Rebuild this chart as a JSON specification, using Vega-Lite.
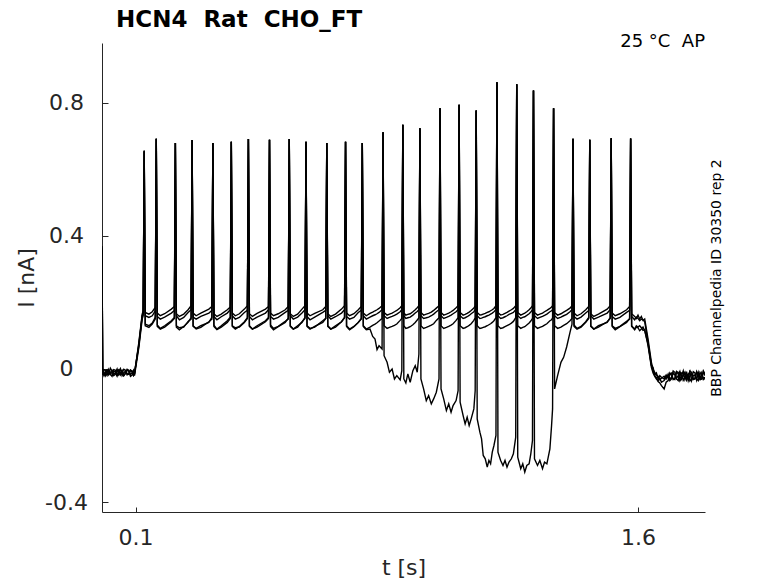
{
"$schema": "https://vega.github.io/schema/vega-lite/v6.json",
"width": 603, "height": 469,
"autosize": {"type": "none"},
"padding": {"left": 102, "top": 43, "right": 73, "bottom": 71},
"background": "white",
"config": {"view": {"stroke": null}, "font": "DejaVu Sans"},
"title": {"text": "HCN4\u00a0\u00a0Rat\u00a0\u00a0CHO_FT", "anchor": "start", "frame": "group", "dx": 14, "offset": 1, "fontSize": 23, "fontWeight": "bold", "color": "black", "font": "DejaVu Sans"},
"layer": [
{
"data": {"values": [
{"t":0.000,"a":0.37,"b":0.36,"c":0.35,"d":0.365},
{"t":0.002,"a":-0.005,"b":-0.012,"c":-0.018,"d":-0.008},
{"t":0.006,"a":-0.018,"b":-0.002,"c":-0.01,"d":-0.02},
{"t":0.010,"a":-0.012,"b":-0.004,"c":-0.02,"d":-0.01},
{"t":0.015,"a":-0.02,"b":-0.014,"c":-0.004,"d":-0.003},
{"t":0.020,"a":-0.002,"b":-0.015,"c":-0.008,"d":-0.018},
{"t":0.025,"a":-0.016,"b":0.002,"c":-0.016,"d":-0.01},
{"t":0.030,"a":-0.01,"b":-0.006,"c":-0.022,"d":-0.004},
{"t":0.035,"a":-0.002,"b":-0.02,"c":-0.006,"d":-0.016},
{"t":0.040,"a":-0.004,"b":-0.016,"c":-0.01,"d":-0.012},
{"t":0.045,"a":-0.018,"b":-0.006,"c":0.0,"d":-0.022},
{"t":0.050,"a":-0.012,"b":-0.002,"c":-0.018,"d":-0.008},
{"t":0.055,"a":-0.003,"b":-0.018,"c":-0.012,"d":0.001},
{"t":0.060,"a":-0.006,"b":-0.012,"c":-0.004,"d":-0.02},
{"t":0.065,"a":-0.02,"b":-0.001,"c":-0.02,"d":-0.012},
{"t":0.070,"a":-0.014,"b":-0.004,"c":-0.012,"d":-0.006},
{"t":0.075,"a":-0.001,"b":-0.014,"c":-0.003,"d":-0.018},
{"t":0.080,"a":-0.004,"b":-0.016,"c":-0.008,"d":-0.014},
{"t":0.085,"a":-0.016,"b":-0.003,"c":-0.022,"d":-0.004},
{"t":0.090,"a":-0.012,"b":-0.006,"c":-0.018,"d":-0.01},
{"t":0.094,"a":-0.004,"b":-0.018,"c":-0.008,"d":-0.02},
{"t":0.097,"a":-0.016,"b":-0.01,"c":-0.02,"d":-0.014},
{"t":0.110,"a":0.08,"b":0.07,"c":0.065,"d":0.075},
{"t":0.120,"a":0.165,"b":0.158,"c":0.15,"d":0.16},
{"t":0.123,"a":0.175,"b":0.17,"c":0.16,"d":0.168},
{"t":0.126,"a":0.657,"b":0.655,"c":0.652,"d":0.656},
{"t":0.129,"a":0.17,"b":0.16,"c":0.13,"d":0.135},
{"t":0.140,"a":0.165,"b":0.155,"c":0.125,"d":0.13},
{"t":0.150,"a":0.172,"b":0.16,"c":0.135,"d":0.138},
{"t":0.159,"a":0.185,"b":0.175,"c":0.15,"d":0.155},
{"t":0.162,"a":0.692,"b":0.692,"c":0.692,"d":0.692},
{"t":0.165,"a":0.168,"b":0.158,"c":0.128,"d":0.132},
{"t":0.174,"a":0.16,"b":0.15,"c":0.12,"d":0.122},
{"t":0.187,"a":0.166,"b":0.156,"c":0.126,"d":0.13},
{"t":0.207,"a":0.18,"b":0.168,"c":0.142,"d":0.145},
{"t":0.216,"a":0.188,"b":0.176,"c":0.152,"d":0.155},
{"t":0.219,"a":0.679,"b":0.679,"c":0.679,"d":0.679},
{"t":0.222,"a":0.166,"b":0.16,"c":0.126,"d":0.13},
{"t":0.231,"a":0.158,"b":0.148,"c":0.118,"d":0.124},
{"t":0.244,"a":0.165,"b":0.155,"c":0.128,"d":0.126},
{"t":0.257,"a":0.178,"b":0.17,"c":0.14,"d":0.143},
{"t":0.266,"a":0.19,"b":0.178,"c":0.154,"d":0.15},
{"t":0.269,"a":0.688,"b":0.688,"c":0.688,"d":0.688},
{"t":0.272,"a":0.168,"b":0.156,"c":0.13,"d":0.128},
{"t":0.281,"a":0.16,"b":0.15,"c":0.12,"d":0.122},
{"t":0.295,"a":0.168,"b":0.158,"c":0.125,"d":0.13},
{"t":0.319,"a":0.18,"b":0.168,"c":0.142,"d":0.14},
{"t":0.328,"a":0.188,"b":0.176,"c":0.15,"d":0.155},
{"t":0.331,"a":0.679,"b":0.679,"c":0.679,"d":0.679},
{"t":0.334,"a":0.166,"b":0.158,"c":0.128,"d":0.132},
{"t":0.343,"a":0.158,"b":0.148,"c":0.118,"d":0.12},
{"t":0.356,"a":0.165,"b":0.157,"c":0.126,"d":0.13},
{"t":0.374,"a":0.178,"b":0.168,"c":0.14,"d":0.145},
{"t":0.383,"a":0.186,"b":0.178,"c":0.152,"d":0.156},
{"t":0.386,"a":0.683,"b":0.683,"c":0.683,"d":0.683},
{"t":0.389,"a":0.168,"b":0.16,"c":0.128,"d":0.13},
{"t":0.398,"a":0.16,"b":0.15,"c":0.12,"d":0.124},
{"t":0.410,"a":0.166,"b":0.155,"c":0.128,"d":0.126},
{"t":0.425,"a":0.18,"b":0.17,"c":0.142,"d":0.14},
{"t":0.434,"a":0.19,"b":0.176,"c":0.154,"d":0.152},
{"t":0.437,"a":0.691,"b":0.691,"c":0.691,"d":0.691},
{"t":0.440,"a":0.166,"b":0.158,"c":0.13,"d":0.128},
{"t":0.449,"a":0.158,"b":0.148,"c":0.12,"d":0.12},
{"t":0.463,"a":0.167,"b":0.156,"c":0.126,"d":0.13},
{"t":0.488,"a":0.18,"b":0.168,"c":0.142,"d":0.145},
{"t":0.497,"a":0.188,"b":0.178,"c":0.152,"d":0.155},
{"t":0.500,"a":0.689,"b":0.689,"c":0.689,"d":0.689},
{"t":0.503,"a":0.168,"b":0.158,"c":0.128,"d":0.132},
{"t":0.512,"a":0.16,"b":0.15,"c":0.118,"d":0.122},
{"t":0.526,"a":0.166,"b":0.155,"c":0.127,"d":0.128},
{"t":0.547,"a":0.178,"b":0.17,"c":0.14,"d":0.143},
{"t":0.556,"a":0.188,"b":0.176,"c":0.153,"d":0.15},
{"t":0.559,"a":0.691,"b":0.691,"c":0.691,"d":0.691},
{"t":0.562,"a":0.166,"b":0.16,"c":0.13,"d":0.128},
{"t":0.571,"a":0.158,"b":0.15,"c":0.12,"d":0.12},
{"t":0.584,"a":0.165,"b":0.156,"c":0.126,"d":0.13},
{"t":0.597,"a":0.18,"b":0.168,"c":0.142,"d":0.14},
{"t":0.606,"a":0.19,"b":0.178,"c":0.152,"d":0.155},
{"t":0.609,"a":0.683,"b":0.683,"c":0.683,"d":0.683},
{"t":0.612,"a":0.168,"b":0.158,"c":0.128,"d":0.13},
{"t":0.621,"a":0.16,"b":0.148,"c":0.12,"d":0.122},
{"t":0.635,"a":0.167,"b":0.156,"c":0.128,"d":0.126},
{"t":0.659,"a":0.178,"b":0.17,"c":0.14,"d":0.145},
{"t":0.668,"a":0.188,"b":0.176,"c":0.152,"d":0.152},
{"t":0.671,"a":0.679,"b":0.679,"c":0.679,"d":0.679},
{"t":0.674,"a":0.166,"b":0.16,"c":0.13,"d":0.128},
{"t":0.683,"a":0.158,"b":0.15,"c":0.12,"d":0.12},
{"t":0.697,"a":0.165,"b":0.157,"c":0.126,"d":0.13},
{"t":0.715,"a":0.18,"b":0.168,"c":0.142,"d":0.142},
{"t":0.724,"a":0.19,"b":0.178,"c":0.154,"d":0.155},
{"t":0.727,"a":0.683,"b":0.683,"c":0.683,"d":0.683},
{"t":0.730,"a":0.168,"b":0.158,"c":0.128,"d":0.13},
{"t":0.739,"a":0.16,"b":0.15,"c":0.118,"d":0.12},
{"t":0.752,"a":0.166,"b":0.155,"c":0.127,"d":0.128},
{"t":0.765,"a":0.178,"b":0.17,"c":0.14,"d":0.14},
{"t":0.774,"a":0.188,"b":0.176,"c":0.152,"d":0.15},
{"t":0.777,"a":0.679,"b":0.679,"c":0.679,"d":0.679},
{"t":0.780,"a":0.168,"b":0.16,"c":0.13,"d":0.128},
{"t":0.789,"a":0.16,"b":0.15,"c":0.12,"d":0.118},
{"t":0.800,"a":0.167,"b":0.156,"c":0.126,"d":0.12},
{"t":0.808,"a":0.171,"b":0.16,"c":0.131,"d":0.098},
{"t":0.815,"a":0.175,"b":0.163,"c":0.135,"d":0.09},
{"t":0.821,"a":0.178,"b":0.166,"c":0.139,"d":0.058},
{"t":0.827,"a":0.182,"b":0.17,"c":0.144,"d":0.07},
{"t":0.836,"a":0.19,"b":0.178,"c":0.152,"d":0.06},
{"t":0.839,"a":0.712,"b":0.712,"c":0.712,"d":0.712},
{"t":0.842,"a":0.17,"b":0.16,"c":0.13,"d":0.04},
{"t":0.851,"a":0.162,"b":0.152,"c":0.122,"d":0.02},
{"t":0.858,"a":0.165,"b":0.155,"c":0.125,"d":-0.01},
{"t":0.866,"a":0.168,"b":0.158,"c":0.128,"d":0.0},
{"t":0.873,"a":0.172,"b":0.161,"c":0.131,"d":-0.03},
{"t":0.880,"a":0.176,"b":0.165,"c":0.135,"d":-0.02},
{"t":0.890,"a":0.184,"b":0.172,"c":0.146,"d":-0.033},
{"t":0.895,"a":0.19,"b":0.178,"c":0.152,"d":-0.005},
{"t":0.898,"a":0.734,"b":0.734,"c":0.734,"d":0.734},
{"t":0.901,"a":0.168,"b":0.16,"c":0.13,"d":-0.03},
{"t":0.907,"a":0.162,"b":0.152,"c":0.122,"d":-0.042},
{"t":0.913,"a":0.164,"b":0.154,"c":0.124,"d":-0.015},
{"t":0.920,"a":0.166,"b":0.156,"c":0.127,"d":-0.04},
{"t":0.928,"a":0.172,"b":0.162,"c":0.133,"d":-0.005},
{"t":0.935,"a":0.178,"b":0.168,"c":0.14,"d":0.01},
{"t":0.941,"a":0.184,"b":0.173,"c":0.147,"d":-0.01},
{"t":0.946,"a":0.19,"b":0.178,"c":0.154,"d":0.045},
{"t":0.949,"a":0.724,"b":0.724,"c":0.724,"d":0.724},
{"t":0.952,"a":0.17,"b":0.16,"c":0.13,"d":-0.03},
{"t":0.960,"a":0.162,"b":0.152,"c":0.122,"d":-0.06},
{"t":0.968,"a":0.165,"b":0.154,"c":0.125,"d":-0.095},
{"t":0.975,"a":0.167,"b":0.156,"c":0.128,"d":-0.08},
{"t":0.983,"a":0.171,"b":0.16,"c":0.132,"d":-0.105},
{"t":0.990,"a":0.176,"b":0.165,"c":0.136,"d":-0.09},
{"t":0.998,"a":0.183,"b":0.172,"c":0.146,"d":-0.07},
{"t":1.006,"a":0.19,"b":0.178,"c":0.154,"d":-0.03},
{"t":1.009,"a":0.784,"b":0.784,"c":0.784,"d":0.784},
{"t":1.012,"a":0.17,"b":0.16,"c":0.13,"d":-0.06},
{"t":1.020,"a":0.162,"b":0.152,"c":0.122,"d":-0.09},
{"t":1.028,"a":0.165,"b":0.155,"c":0.125,"d":-0.125},
{"t":1.035,"a":0.168,"b":0.158,"c":0.128,"d":-0.105},
{"t":1.042,"a":0.172,"b":0.162,"c":0.132,"d":-0.13},
{"t":1.048,"a":0.176,"b":0.166,"c":0.136,"d":-0.11},
{"t":1.057,"a":0.184,"b":0.172,"c":0.146,"d":-0.095},
{"t":1.063,"a":0.19,"b":0.178,"c":0.154,"d":-0.065},
{"t":1.066,"a":0.794,"b":0.794,"c":0.794,"d":0.794},
{"t":1.069,"a":0.17,"b":0.16,"c":0.13,"d":-0.1},
{"t":1.078,"a":0.162,"b":0.152,"c":0.122,"d":-0.14},
{"t":1.084,"a":0.164,"b":0.154,"c":0.124,"d":-0.165},
{"t":1.090,"a":0.167,"b":0.157,"c":0.127,"d":-0.145},
{"t":1.096,"a":0.171,"b":0.161,"c":0.131,"d":-0.17},
{"t":1.102,"a":0.176,"b":0.166,"c":0.136,"d":-0.15},
{"t":1.110,"a":0.183,"b":0.172,"c":0.146,"d":-0.12},
{"t":1.114,"a":0.19,"b":0.178,"c":0.154,"d":-0.065},
{"t":1.117,"a":0.777,"b":0.777,"c":0.777,"d":0.777},
{"t":1.120,"a":0.17,"b":0.16,"c":0.13,"d":-0.15},
{"t":1.128,"a":0.162,"b":0.152,"c":0.122,"d":-0.19},
{"t":1.133,"a":0.163,"b":0.153,"c":0.123,"d":-0.21},
{"t":1.138,"a":0.165,"b":0.155,"c":0.125,"d":-0.26},
{"t":1.144,"a":0.167,"b":0.157,"c":0.127,"d":-0.27},
{"t":1.150,"a":0.17,"b":0.16,"c":0.13,"d":-0.295},
{"t":1.155,"a":0.172,"b":0.162,"c":0.133,"d":-0.275},
{"t":1.160,"a":0.175,"b":0.165,"c":0.136,"d":-0.285},
{"t":1.165,"a":0.178,"b":0.168,"c":0.14,"d":-0.25},
{"t":1.170,"a":0.182,"b":0.172,"c":0.145,"d":-0.23},
{"t":1.176,"a":0.19,"b":0.178,"c":0.154,"d":-0.2},
{"t":1.179,"a":0.862,"b":0.862,"c":0.862,"d":0.862},
{"t":1.182,"a":0.17,"b":0.16,"c":0.13,"d":-0.25},
{"t":1.190,"a":0.162,"b":0.152,"c":0.122,"d":-0.275},
{"t":1.197,"a":0.164,"b":0.154,"c":0.124,"d":-0.29},
{"t":1.203,"a":0.167,"b":0.157,"c":0.127,"d":-0.275},
{"t":1.209,"a":0.17,"b":0.16,"c":0.13,"d":-0.295},
{"t":1.215,"a":0.174,"b":0.164,"c":0.133,"d":-0.28},
{"t":1.222,"a":0.178,"b":0.167,"c":0.138,"d":-0.27},
{"t":1.228,"a":0.182,"b":0.17,"c":0.143,"d":-0.255},
{"t":1.235,"a":0.19,"b":0.178,"c":0.154,"d":-0.205},
{"t":1.238,"a":0.856,"b":0.856,"c":0.856,"d":0.856},
{"t":1.241,"a":0.17,"b":0.16,"c":0.13,"d":-0.265},
{"t":1.250,"a":0.162,"b":0.152,"c":0.122,"d":-0.3},
{"t":1.256,"a":0.165,"b":0.155,"c":0.125,"d":-0.285},
{"t":1.262,"a":0.168,"b":0.157,"c":0.127,"d":-0.31},
{"t":1.268,"a":0.172,"b":0.161,"c":0.132,"d":-0.29},
{"t":1.275,"a":0.178,"b":0.166,"c":0.138,"d":-0.285},
{"t":1.280,"a":0.183,"b":0.171,"c":0.144,"d":-0.255},
{"t":1.285,"a":0.19,"b":0.178,"c":0.152,"d":-0.215},
{"t":1.288,"a":0.837,"b":0.837,"c":0.837,"d":0.837},
{"t":1.291,"a":0.17,"b":0.16,"c":0.13,"d":-0.27},
{"t":1.300,"a":0.162,"b":0.152,"c":0.122,"d":-0.29},
{"t":1.307,"a":0.165,"b":0.155,"c":0.125,"d":-0.275},
{"t":1.315,"a":0.168,"b":0.158,"c":0.128,"d":-0.3},
{"t":1.321,"a":0.172,"b":0.161,"c":0.132,"d":-0.28},
{"t":1.328,"a":0.176,"b":0.165,"c":0.136,"d":-0.285},
{"t":1.337,"a":0.182,"b":0.172,"c":0.145,"d":-0.24},
{"t":1.342,"a":0.186,"b":0.175,"c":0.148,"d":-0.17},
{"t":1.345,"a":0.19,"b":0.178,"c":0.154,"d":-0.12},
{"t":1.348,"a":0.784,"b":0.784,"c":0.784,"d":0.784},
{"t":1.351,"a":0.17,"b":0.16,"c":0.13,"d":-0.06},
{"t":1.360,"a":0.162,"b":0.152,"c":0.122,"d":-0.02},
{"t":1.370,"a":0.166,"b":0.156,"c":0.126,"d":0.02},
{"t":1.378,"a":0.171,"b":0.16,"c":0.131,"d":0.035},
{"t":1.387,"a":0.176,"b":0.164,"c":0.136,"d":0.066},
{"t":1.397,"a":0.183,"b":0.172,"c":0.145,"d":0.11},
{"t":1.403,"a":0.19,"b":0.178,"c":0.152,"d":0.135},
{"t":1.406,"a":0.692,"b":0.692,"c":0.692,"d":0.692},
{"t":1.409,"a":0.168,"b":0.158,"c":0.128,"d":0.132},
{"t":1.418,"a":0.16,"b":0.15,"c":0.12,"d":0.122},
{"t":1.430,"a":0.166,"b":0.156,"c":0.126,"d":0.128},
{"t":1.444,"a":0.178,"b":0.168,"c":0.14,"d":0.142},
{"t":1.453,"a":0.188,"b":0.176,"c":0.152,"d":0.155},
{"t":1.456,"a":0.689,"b":0.689,"c":0.689,"d":0.689},
{"t":1.459,"a":0.166,"b":0.16,"c":0.13,"d":0.128},
{"t":1.468,"a":0.158,"b":0.15,"c":0.12,"d":0.12},
{"t":1.482,"a":0.165,"b":0.156,"c":0.126,"d":0.13},
{"t":1.508,"a":0.18,"b":0.168,"c":0.142,"d":0.14},
{"t":1.517,"a":0.19,"b":0.178,"c":0.152,"d":0.154},
{"t":1.520,"a":0.694,"b":0.694,"c":0.694,"d":0.694},
{"t":1.523,"a":0.168,"b":0.158,"c":0.128,"d":0.13},
{"t":1.532,"a":0.16,"b":0.15,"c":0.118,"d":0.122},
{"t":1.546,"a":0.166,"b":0.155,"c":0.127,"d":0.128},
{"t":1.566,"a":0.178,"b":0.17,"c":0.14,"d":0.143},
{"t":1.575,"a":0.188,"b":0.176,"c":0.152,"d":0.15},
{"t":1.578,"a":0.693,"b":0.693,"c":0.693,"d":0.693},
{"t":1.581,"a":0.166,"b":0.158,"c":0.128,"d":0.13},
{"t":1.590,"a":0.158,"b":0.148,"c":0.12,"d":0.118},
{"t":1.595,"a":0.152,"b":0.156,"c":0.13,"d":0.126},
{"t":1.600,"a":0.162,"b":0.152,"c":0.126,"d":0.124},
{"t":1.605,"a":0.15,"b":0.145,"c":0.13,"d":0.115},
{"t":1.610,"a":0.158,"b":0.15,"c":0.124,"d":0.12},
{"t":1.615,"a":0.146,"b":0.148,"c":0.116,"d":0.126},
{"t":1.620,"a":0.15,"b":0.142,"c":0.118,"d":0.115},
{"t":1.630,"a":0.09,"b":0.08,"c":0.07,"d":0.075},
{"t":1.640,"a":0.02,"b":0.012,"c":0.005,"d":0.01},
{"t":1.645,"a":-0.002,"b":0.004,"c":-0.012,"d":-0.006},
{"t":1.650,"a":-0.01,"b":-0.018,"c":-0.022,"d":-0.02},
{"t":1.655,"a":-0.018,"b":-0.012,"c":-0.03,"d":-0.026},
{"t":1.660,"a":-0.022,"b":-0.03,"c":-0.035,"d":-0.038},
{"t":1.665,"a":-0.032,"b":-0.02,"c":-0.028,"d":-0.042},
{"t":1.670,"a":-0.028,"b":-0.025,"c":-0.04,"d":-0.05},
{"t":1.678,"a":-0.022,"b":-0.03,"c":-0.035,"d":-0.06},
{"t":1.684,"a":-0.03,"b":-0.018,"c":-0.025,"d":-0.04},
{"t":1.690,"a":-0.015,"b":-0.028,"c":-0.02,"d":-0.035},
{"t":1.695,"a":-0.03,"b":-0.015,"c":-0.035,"d":-0.012},
{"t":1.700,"a":-0.025,"b":-0.012,"c":-0.03,"d":-0.02},
{"t":1.705,"a":-0.006,"b":-0.032,"c":-0.012,"d":-0.03},
{"t":1.710,"a":-0.01,"b":-0.028,"c":-0.018,"d":-0.032},
{"t":1.715,"a":-0.028,"b":-0.008,"c":-0.03,"d":-0.008},
{"t":1.720,"a":-0.02,"b":-0.01,"c":-0.035,"d":-0.015},
{"t":1.725,"a":-0.008,"b":-0.03,"c":-0.01,"d":-0.036},
{"t":1.730,"a":-0.03,"b":-0.02,"c":-0.012,"d":-0.028},
{"t":1.735,"a":-0.02,"b":-0.006,"c":-0.034,"d":-0.02},
{"t":1.740,"a":-0.012,"b":-0.032,"c":-0.025,"d":-0.01},
{"t":1.745,"a":-0.034,"b":-0.02,"c":-0.008,"d":-0.03},
{"t":1.750,"a":-0.025,"b":-0.015,"c":-0.035,"d":-0.022},
{"t":1.755,"a":-0.006,"b":-0.036,"c":-0.02,"d":-0.008},
{"t":1.760,"a":-0.01,"b":-0.03,"c":-0.015,"d":-0.035},
{"t":1.765,"a":-0.03,"b":-0.008,"c":-0.032,"d":-0.02},
{"t":1.770,"a":-0.028,"b":-0.012,"c":-0.03,"d":-0.018},
{"t":1.775,"a":-0.01,"b":-0.03,"c":-0.008,"d":-0.034},
{"t":1.780,"a":-0.015,"b":-0.035,"c":-0.02,"d":-0.01},
{"t":1.785,"a":-0.032,"b":-0.01,"c":-0.03,"d":-0.026},
{"t":1.790,"a":-0.03,"b":-0.018,"c":-0.012,"d":-0.03},
{"t":1.795,"a":-0.008,"b":-0.032,"c":-0.028,"d":-0.006},
{"t":1.800,"a":-0.02,"b":-0.028,"c":-0.025,"d":-0.015}
]},
"transform": [{"fold": ["a","b","c","d"], "as": ["trace","i"]}],
"mark": {"type": "line", "color": "black", "strokeWidth": 1.4, "clip": true},
"encoding": {
"x": {"field": "t", "type": "quantitative", "title": "t [s]",
"scale": {"domain": [0, 1.8], "nice": false, "zero": false},
"axis": {"values": [0.1, 1.6], "grid": false, "domainColor": "#262626", "tickColor": "#262626", "tickSize": -5, "labelPadding": 20, "labelFontSize": 22, "labelColor": "#262626", "titleFontSize": 22, "titleFontWeight": "normal", "titleColor": "#262626", "titlePadding": 9, "labelFont": "DejaVu Sans", "titleFont": "DejaVu Sans"}},
"y": {"field": "i", "type": "quantitative", "title": "I [nA]",
"scale": {"domain": [-0.43, 0.98], "nice": false, "zero": false},
"axis": {"values": [-0.4, 0, 0.4, 0.8], "labelExpr": "replace(format(datum.value, '.1~f'), '\u2212', '-')", "grid": false, "domainColor": "#262626", "tickColor": "#262626", "tickSize": -6, "labelPadding": 42, "labelAlign": "center", "labelFontSize": 22, "labelColor": "#262626", "titleFontSize": 22, "titleFontWeight": "normal", "titleColor": "#262626", "titlePadding": 6, "labelFont": "DejaVu Sans", "titleFont": "DejaVu Sans"}},
"detail": {"field": "trace", "type": "nominal"}
}
},
{
"data": {"values": [{"t": 1.8, "i": 0.98, "label": "25 °C\u00a0\u00a0AP"}]},
"mark": {"type": "text", "align": "right", "baseline": "top", "dy": -10, "fontSize": 18, "color": "black", "font": "DejaVu Sans"},
"encoding": {
"x": {"field": "t", "type": "quantitative", "title": "t [s]"},
"y": {"field": "i", "type": "quantitative", "axis": {"orient": "right", "title": "BBP Channelpedia ID 30350 rep 2", "domain": false, "ticks": false, "labels": false, "grid": false, "titleAngle": 270, "titleFontSize": 14, "titleFontWeight": "normal", "titleColor": "black", "titlePadding": 18, "titleFont": "DejaVu Sans"}},
"text": {"field": "label"}
}
}
],
"resolve": {"axis": {"y": "independent"}}
}
